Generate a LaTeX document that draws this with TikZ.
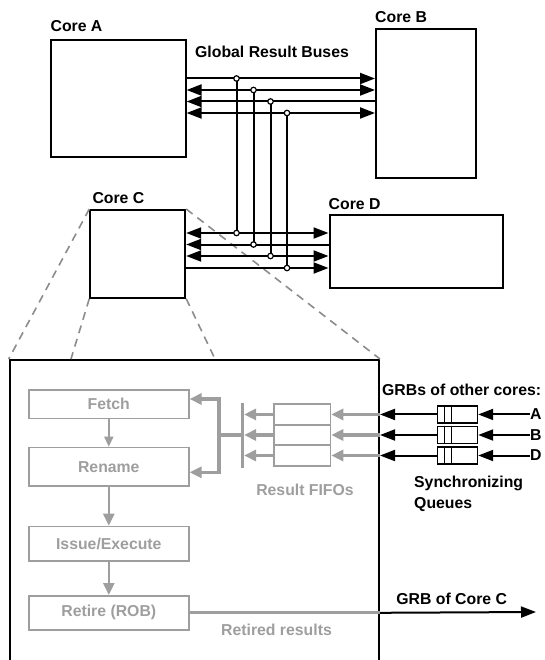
\documentclass[tikz,border=0pt]{standalone}
\usepackage{fontspec}
\setmainfont{Liberation Sans}
\usetikzlibrary{arrows.meta,positioning}
\definecolor{fade}{RGB}{158,158,158}
\definecolor{zoomgray}{RGB}{140,140,140}

\begin{document}
\begin{tikzpicture}[x=1pt,y=-1pt,
    lbl/.style={font=\bfseries\fontsize{15.8}{19}\selectfont, inner sep=0pt},
    core/.style={draw, line width=2pt, anchor=north west, inner sep=0pt},
    stage/.style={lbl, draw=fade, text=fade, line width=1.6pt, anchor=north west, minimum width=160pt},
    fifo/.style={draw=fade, line width=1.6pt, minimum width=56.5pt, minimum height=20.5pt, inner sep=0pt},
    queue/.style={draw, line width=1.6pt, minimum width=40pt, minimum height=17pt, inner sep=0pt},
    bus/.style={line width=2pt, >={Triangle[length=15pt,width=11pt]}},
    garrow/.style={draw=fade, line width=3.2pt, >={Triangle[length=12pt,width=11pt]}},
    tap/.style={circle, draw, fill=white, line width=1.2pt, inner sep=0pt, minimum size=5.5pt},
    zoomline/.style={draw=zoomgray, line width=1.6pt, dash pattern=on 8pt off 6pt}]
    \useasboundingbox (0,0) rectangle (545,660);
    % Cores
    \node[core, minimum width=134.2pt, minimum height=117.3pt] (coreA) at (50.4,39) {};
    \node[lbl, above=7.3pt of coreA.north west, anchor=base west] (coreAlbl) {Core A};
    \node[core, minimum width=99.5pt, minimum height=149.3pt] (coreB) at (375,28) {};
    \node[lbl, above=5.6pt of coreB.north west, anchor=base west] (coreBlbl) {Core B};
    \node[core, minimum width=94.9pt, minimum height=87.7pt] (coreC) at (89.3,209) {};
    \node[lbl, above=5pt of coreC.north west, anchor=base west, xshift=3pt] (coreClbl) {Core C};
    \node[core, minimum width=173.1pt, minimum height=73pt] (coreD) at (328.5,214.3) {};
    \node[lbl, above=4.6pt of coreD.north west, anchor=base west] (coreDlbl) {Core D};
    \node[lbl, anchor=base west] (buslbl) at (195,57.3) {Global Result Buses};
    % Core C zoomed
    \node[draw, line width=2pt, anchor=north west, minimum width=369.3pt, minimum height=330pt, inner sep=0pt] (detail) at (8.7,359) {};
    \draw[zoomline] (coreC.north west) -- (detail.north west);
    \draw[zoomline] (coreC.south west) -- (detail.north -| 71,0);
    \draw[zoomline] (coreC.south east) -- (detail.north -| 215,0);
    \draw[zoomline] (coreC.north east) -- (detail.north east);
    % Buses
    \foreach \i/\x/\ya/\yb in {1/236.5/78.5/233, 2/253.5/90/244.5, 3/270.5/101.5/256, 4/287/113/268} {
        \coordinate (ta\i) at (\x,\ya);
        \coordinate (tb\i) at (\x,\yb);
    }
    \draw[bus,->] (coreA.east |- ta1) -- (coreB.west |- ta1);
    \draw[bus,<->] (coreA.east |- ta2) -- (coreB.west |- ta2);
    \draw[bus,<-] (coreA.east |- ta3) -- (coreB.west |- ta3);
    \draw[bus,<->] (coreA.east |- ta4) -- (coreB.west |- ta4);
    \draw[bus,<->] (coreC.east |- tb1) -- (coreD.west |- tb1);
    \draw[bus,<-] (coreC.east |- tb2) -- (coreD.west |- tb2);
    \draw[bus,<->] (coreC.east |- tb3) -- (coreD.west |- tb3);
    \draw[bus,->] (coreC.east |- tb4) -- (coreD.west |- tb4);
    \foreach \i in {1,...,4} {
        \draw[bus] (ta\i) -- (tb\i);
        \node[tap] (dota\i) at (ta\i) {};
        \node[tap] (dotb\i) at (tb\i) {};
    }
    % Pipeline
    \node[stage, minimum height=28.4pt] (fetch) at (28,389.3) {Fetch};
    \node[stage, minimum height=38.6pt] (rename) at (28,446.7) {Rename};
    \node[stage, minimum height=34.3pt] (issue) at (28,525.7) {Issue/Execute};
    \node[stage, minimum height=34pt] (retire) at (28,595) {Retire (ROB)};
    \draw[garrow,->, line width=1.6pt, >={Triangle[length=10pt,width=9pt]}] (fetch) -- (rename);
    \draw[garrow,->, line width=2.4pt] (rename) -- (issue);
    \draw[garrow,->, line width=2.4pt] (issue) -- (retire);
    % Result FIFOs and queues
    \coordinate (barT) at (242.5,403.3);
    \coordinate (barB) at (242.5,468.3);
    \draw[garrow] (barT) -- (barB);
    \foreach \i/\c/\y in {1/A/414.45, 2/B/435, 3/D/455.5} {
        \node[fifo] (fifo\i) at (302.25,\y) {};
        \node[queue] (q\i) at (457.4,\y) {};
        \draw[line width=1.2pt] ([xshift=7.5pt]q\i.north west) -- ([xshift=7.5pt]q\i.south west);
        \draw[line width=1.2pt] ([xshift=14.5pt]q\i.north west) -- ([xshift=14.5pt]q\i.south west);
        \node[lbl, anchor=west] (src\c) at (530,\y) {\c};
        \draw[bus,->] (src\c.west) -- (q\i.east);
        \draw[bus,->] (q\i.west) -- (fifo\i.east -| detail.east);
        \draw[garrow,->] (fifo\i.east -| detail.east) -- (fifo\i.east);
        \draw[garrow,->, shorten >=1.6pt] (fifo\i.west) -- (fifo\i.west -| barT);
    }
    \coordinate (split) at (219,435);
    \draw[garrow] (split) -- (split -| barT);
    \draw[garrow,<->] (fetch.east |- 0,399) -| (split) |- (rename.east |- 0,472.3);
    \node[lbl, text=fade, anchor=base] (fifolbl) at (305,495.6) {Result FIFOs};
    \node[lbl, anchor=base west] (otherslbl) at (382,395) {GRBs of other cores:};
    \node[lbl, anchor=base west] (synclbl) at (414,487.5) {Synchronizing};
    \node[lbl, below=20.7pt of synclbl.base west, anchor=base west] (queuelbl) {Queues};
    % Retired results out
    \coordinate (grbout) at (536,612);
    \draw[garrow] (retire.east) -- (retire.east -| detail.east);
    \draw[bus,->] (retire.east -| detail.east) -- (grbout);
    \node[lbl, anchor=base] (grbclbl) at (451.7,604.6) {GRB of Core C};
    \node[lbl, text=fade, anchor=base] (retlbl) at (276.5,635.6) {Retired results};
\end{tikzpicture}
\end{document}
